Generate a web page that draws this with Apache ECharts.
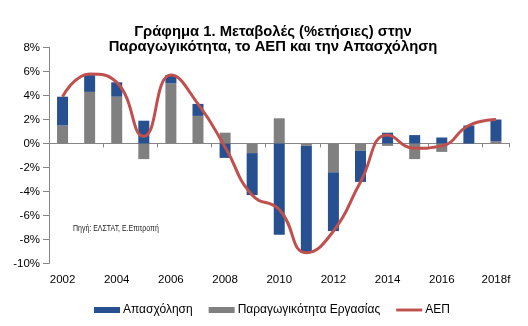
<!DOCTYPE html>
<html>
<head>
<meta charset="utf-8">
<script src="https://cdn.jsdelivr.net/npm/echarts@6/dist/echarts.min.js"></script>
<style>html,body{margin:0;padding:0;background:#fff}#c{width:528px;height:326px}</style>
</head>
<body>
<div id="c"></div>
<script>
const years = ['2002','2003','2004','2005','2006','2007','2008','2009','2010','2011','2012','2013','2014','2015','2016','2017','2018f'];
const employment = [2.4, 1.4, 1.2, 1.9, 0.7, 1.0, -1.2, -3.5, -7.6, -8.9, -4.9, -2.6, 0.9, 0.7, 0.5, 1.5, 1.8];
const productivity = [1.5, 4.3, 3.9, -1.3, 5.0, 2.3, 0.9, -0.8, 2.1, -0.2, -2.4, -0.6, -0.2, -1.3, -0.7, 0.0, 0.2];
const gdp = [3.9, 5.8, 5.1, 0.6, 5.7, 3.3, -0.3, -4.3, -5.5, -9.1, -7.3, -3.2, 0.7, -0.4, -0.2, 1.5, 2.0];
const yTicks = {min: -10, max: 8, interval: 2};
const titleText = 'Γράφημα 1. Μεταβολές (%ετήσιες) στην\nΠαραγωγικότητα, το ΑΕΠ και την Απασχόληση';
const sourceText = 'Πηγή: ΕΛΣΤΑΤ, Ε.Επιτροπή';
const names = ['Απασχόληση', 'Παραγωγικότητα Εργασίας', 'ΑΕΠ'];

const chart = echarts.init(document.getElementById('c'), null, {renderer: 'canvas'});
const font = 'Arial, "Liberation Sans", sans-serif';
chart.setOption({
  animation: false,
  title: {
    text: titleText,
    left: 273, top: 24, textAlign: 'center', padding: 0,
    textStyle: {fontFamily: font, fontSize: 14.8, fontWeight: 'bold', color: '#000', lineHeight: 15.5}
  },
  grid: {left: 49, right: 18.5, top: 47.5, bottom: 62.5},
  legend: {
    left: 89, top: 299, itemWidth: 26, itemHeight: 6, itemGap: 16,
    textStyle: {fontFamily: font, fontSize: 12, color: '#000', padding: [0,0,0,-2]},
    data: [
      {name: names[0], icon: 'rect'},
      {name: names[1], icon: 'rect'},
      {name: names[2], icon: 'path://M0,0H27V3H0Z'}
    ]
  },
  graphic: [{
    type: 'text', x: 73, y: 224, scaleX: 0.82,
    style: {text: sourceText, font: '8.5px "Liberation Sans", Arial, sans-serif', fill: '#222'}
  }],
  xAxis: [{
    type: 'category', data: years, boundaryGap: true,
    axisLine: {onZero: true, lineStyle: {color: '#868686', width: 1}},
    axisTick: {show: true, length: 4, inside: false, lineStyle: {color: '#868686'}},
    axisLabel: {show: false}, splitLine: {show: false}
  }, {
    type: 'category', data: years, position: 'bottom', boundaryGap: true,
    axisLine: {show: false, onZero: false}, axisTick: {show: false},
    axisLabel: {interval: 1, margin: 10, fontFamily: font, fontSize: 11.5, color: '#000'}
  }],
  yAxis: {
    type: 'value', min: yTicks.min, max: yTicks.max, interval: yTicks.interval,
    axisLine: {show: true, lineStyle: {color: '#868686'}},
    axisTick: {show: true, length: 6, lineStyle: {color: '#868686'}},
    splitLine: {show: false},
    axisLabel: {formatter: '{value}%', margin: 9, fontFamily: font, fontSize: 11.5, color: '#000'}
  },
  series: [{
    name: names[1], type: 'bar', stack: 'a', data: productivity, barWidth: 11,
    itemStyle: {color: '#808080'}
  }, {
    name: names[0], type: 'bar', stack: 'a', data: employment, barWidth: 11,
    itemStyle: {color: '#26508f'}
  }, {
    name: names[2], type: 'line', data: gdp, smooth: 0.5, symbol: 'none',
    lineStyle: {color: '#c0504d', width: 3}, itemStyle: {color: '#c0504d'}, z: 5
  }]
});
</script>
</body>
</html>
